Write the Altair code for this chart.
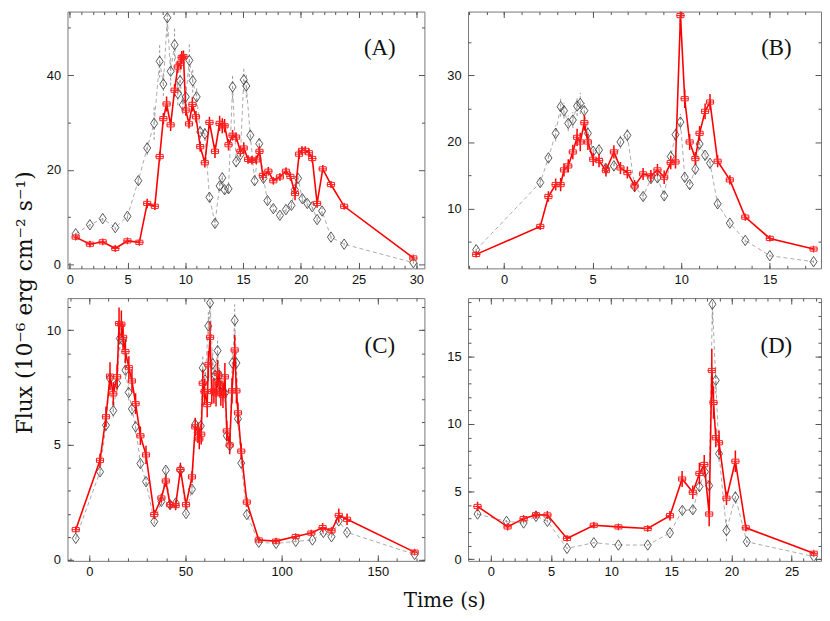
import altair as alt
import pandas as pd

# ---------------- Panel A ----------------
a_t_red = [0.51,1.74,2.85,3.94,4.99,6.02,6.70,7.36,7.78,8.10,
           8.38,8.73,9.07,9.35,9.58,9.69,9.84,10.04,10.32,10.61,
           10.92,11.29,11.69,12.09,12.57,12.97,13.20,13.40,13.74,14.09,
           14.40,14.77,15.06,15.43,15.77,16.14,16.42,16.71,17.19,17.62,
           18.19,18.71,19.10,19.50,19.85,20.10,20.39,20.70,20.99,21.41,
           21.90,22.61,23.75,29.74]
a_f_red = [5.8,4.3,4.8,3.4,5.0,4.7,12.9,12.3,22.8,30.8,
           33.9,29.5,36.8,41.7,42.5,43.7,43.9,32.6,29.7,33.8,
           31.2,24.9,21.5,30.0,23.9,29.8,29.3,29.3,25.3,27.3,
           26.9,23.9,24.6,22.2,22.0,22.1,23.9,18.8,19.7,17.7,
           18.5,19.7,18.6,15.0,23.3,24.1,24.1,23.6,22.4,12.9,
           20.2,16.9,12.3,1.4]
a_e_red = [0.6,0.6,0.6,0.7,0.6,0.6,1.0,0.8,1.0,1.2,
           1.6,1.3,1.3,1.2,1.2,1.4,1.3,1.2,1.0,1.5,
           1.2,1.1,1.0,1.2,1.4,1.6,1.6,1.4,1.2,1.1,
           1.0,1.1,1.2,0.9,0.9,0.9,1.1,1.0,0.9,0.8,
           0.8,0.8,0.9,1.4,1.0,0.9,0.9,0.9,0.9,0.9,
           0.8,0.7,0.6,0.4]
a_t_grey = [0.51,1.74,2.85,3.94,4.99,5.93,6.70,7.30,7.78,8.10,
            8.44,8.73,9.07,9.35,9.55,9.78,10.04,10.35,10.64,10.98,
            11.29,11.69,12.09,12.57,12.97,13.20,13.40,13.74,14.09,14.40,
            14.77,15.06,15.28,15.63,16.00,16.40,16.77,17.11,17.62,18.19,
            18.71,19.19,19.48,19.76,20.13,20.56,20.99,21.41,21.84,22.61,
            23.75,29.74]
a_f_grey = [6.5,8.4,9.7,7.8,10.2,17.7,24.6,29.8,42.9,38.1,
            52.1,40.8,46.4,36.1,38.8,33.7,35.4,43.1,38.8,35.4,
            28.0,27.6,14.2,8.7,16.6,18.3,15.8,16.0,37.5,21.7,
            23.2,39.0,37.7,27.3,17.7,25.5,18.2,13.5,11.8,10.4,
            11.6,12.5,15.8,18.2,13.9,12.9,12.2,9.5,11.3,5.8,
            4.3,0.4]
a_e_grey = [0.5,0.5,0.5,0.5,0.6,1.0,1.5,3.5,3.5,2.5,
            4.0,3.0,3.5,2.5,2.5,2.0,2.5,3.5,2.5,2.0,
            1.5,1.5,1.0,0.8,1.0,1.2,1.0,1.0,2.5,1.2,
            1.5,2.5,2.5,1.5,1.0,1.5,1.0,0.8,0.7,0.6,
            0.6,0.7,1.0,1.2,0.8,0.7,0.7,0.6,0.7,0.4,
            0.3,0.2]

# ---------------- Panel B ----------------
b_t = [-1.58,2.04,2.50,2.91,3.19,3.38,3.62,3.88,4.12,4.30,
       4.53,4.73,5.03,5.36,5.75,6.20,6.57,6.96,7.37,7.85,
       8.29,8.66,9.04,9.41,9.68,9.96,10.20,10.48,10.80,11.04,
       11.35,11.63,12.06,12.75,13.62,15.01,17.48]
b_f_red = [3.1,7.3,11.8,13.6,13.6,15.8,16.4,18.5,20.7,20.0,
           22.9,20.0,17.4,17.2,15.7,18.5,16.1,15.4,13.4,15.2,
           14.9,15.8,14.7,16.9,17.0,39.0,26.5,20.0,17.5,21.3,
           24.6,26.0,17.1,14.3,8.7,5.5,3.9]
b_e_red = [0.4,0.5,0.8,0.9,1.0,1.0,1.0,1.1,1.3,1.4,
           1.2,1.2,1.0,1.0,0.9,1.0,0.9,0.9,0.9,0.9,
           0.9,0.9,1.0,1.0,1.0,1.6,1.4,1.2,1.0,1.1,
           1.2,1.2,0.9,0.7,0.5,0.4,0.3]
b_f_grey = [3.8,13.9,17.6,21.3,25.3,24.7,22.8,23.3,25.4,25.8,
            24.7,21.3,18.6,18.8,16.0,16.4,20.0,21.0,13.3,11.8,
            14.5,14.6,11.9,17.8,21.1,23.0,14.7,13.6,15.9,19.7,
            18.0,16.8,10.7,7.8,5.2,2.9,2.0]
b_e_grey = [0.3,0.6,0.8,1.2,1.5,1.2,1.2,1.2,1.5,1.6,
            1.2,1.0,0.8,0.8,0.8,0.8,1.0,1.0,0.7,0.6,
            0.7,0.7,0.6,0.9,1.0,1.2,0.8,0.8,0.8,0.9,
            0.8,0.8,0.5,0.4,0.3,0.2,0.2]

# ---------------- Panel C ----------------
c_t_red = [-7.0,5.6,8.7,10.8,12.5,14.5,15.5,16.7,17.6,18.8,
           20.6,22.2,24.1,26.6,29.5,33.8,37.5,39.8,42.0,44.9,
           47.4,50.3,53.4,55.1,56.5,57.2,58.2,59.0,59.9,61.3,
           61.9,62.8,63.7,64.8,65.9,66.7,67.6,68.4,69.5,70.5,
           71.5,73.0,74.2,75.6,76.5,77.3,79.0,81.9,88.1,97.1,
           107.3,115.4,121.3,125.9,129.7,134.0,169.1]
c_f_red = [1.31,4.33,6.23,8.0,7.23,7.97,10.29,10.26,9.69,9.07,
           8.37,7.79,6.8,5.4,4.57,1.97,2.69,3.43,2.40,2.36,
           3.93,2.40,3.61,5.79,5.54,5.26,5.47,7.69,7.33,6.76,
           8.5,9.69,7.33,7.36,7.23,8.11,7.69,7.26,7.16,7.97,
           5.61,5.0,7.36,9.14,7.36,6.4,4.73,2.51,0.86,0.81,
           1.01,1.16,1.4,1.26,1.93,1.76,0.33]
c_e_red = [0.12,0.3,0.45,0.6,0.5,0.55,0.7,0.6,0.55,0.5,
           0.5,0.5,0.45,0.4,0.4,0.2,0.2,0.25,0.2,0.2,
           0.3,0.2,0.25,0.4,0.45,0.45,0.45,0.6,0.55,0.55,
           0.6,0.7,0.55,0.55,0.55,0.6,0.55,0.55,0.55,0.6,
           0.45,0.4,0.55,0.65,0.55,0.45,0.35,0.2,0.08,0.08,
           0.1,0.12,0.2,0.15,0.3,0.25,0.05]
c_t_grey = [-7.0,5.6,8.7,10.8,12.5,14.5,15.9,17.6,18.8,20.5,
            22.2,24.1,26.6,29.5,33.8,37.5,39.8,42.0,44.9,47.4,
            50.3,53.4,55.1,56.5,58.0,59.0,60.2,61.9,62.8,64.2,
            65.4,66.7,67.6,68.4,69.5,70.5,71.5,73.0,74.4,75.6,
            76.5,77.3,79.0,81.9,88.1,97.1,107.3,116.0,121.7,125.9,
            129.7,134.0,169.1]
c_f_grey = [0.93,3.83,5.86,7.9,6.5,7.69,9.64,9.54,8.26,7.29,
            6.57,5.79,4.19,3.4,1.66,2.54,3.9,2.4,2.47,3.9,
            2.01,3.07,5.9,5.61,5.83,8.36,7.83,10.19,11.19,8.54,
            8.04,9.11,8.04,7.54,7.33,7.26,5.4,4.97,8.57,10.43,
            8.57,6.14,4.21,1.97,0.76,0.71,0.8,0.86,1.19,1.0,
            1.69,1.19,0.23]
c_e_grey = [0.05,0.15,0.25,0.35,0.3,0.35,0.5,0.5,0.4,0.35,
            0.3,0.3,0.2,0.15,0.1,0.15,0.2,0.15,0.15,0.2,
            0.1,0.15,0.3,0.3,0.3,0.5,0.45,0.6,0.7,0.5,
            0.45,0.55,0.45,0.4,0.4,0.4,0.3,0.3,0.5,0.7,
            0.5,0.35,0.25,0.1,0.05,0.05,0.05,0.05,0.08,0.06,
            0.1,0.07,0.02]

# ---------------- Panel D ----------------
d_t_red = [-1.11,1.39,2.72,3.75,4.70,6.33,8.56,10.60,13.04,14.89,
           15.90,16.79,17.34,17.74,18.15,18.37,18.51,18.70,18.97,19.59,
           20.33,21.20,26.85]
d_f_red = [3.9,2.39,3.0,3.29,3.27,1.54,2.51,2.39,2.27,3.22,
           5.93,4.95,6.34,7.0,3.34,13.95,11.59,8.98,8.61,4.51,
           7.24,2.32,0.44]
d_e_red = [0.35,0.25,0.25,0.3,0.3,0.2,0.2,0.2,0.2,0.35,
           0.6,0.5,0.8,0.7,0.9,1.6,1.2,0.7,0.9,0.5,
           0.8,0.25,0.1]
d_t_grey = [-1.11,1.30,2.72,3.75,4.70,6.33,8.56,10.60,13.04,14.89,
            15.92,16.79,17.34,17.80,18.15,18.42,18.70,18.97,19.59,20.33,
            21.28,26.85]
d_f_grey = [3.34,2.8,2.68,3.17,2.8,0.8,1.22,1.05,1.05,1.95,
            3.61,3.66,5.37,6.46,5.44,18.85,13.22,7.8,2.12,4.59,
            1.29,0.2]
d_e_grey = [0.1,0.1,0.1,0.1,0.1,0.05,0.05,0.05,0.05,0.1,
            0.3,0.3,0.4,0.5,0.4,1.5,1.0,0.6,0.8,0.5,
            0.1,0.05]

SERIF = "Liberation Serif"
TITLE_FONT = "DejaVu Serif"
SANS = "Liberation Sans"
RED_SHAPE = "M-1,-0.6H1V0.6H-1Z M-1.2,0H1.2 M0,-1V1"
DIAMOND = "M0,-1L0.68,0L0,1L-0.68,0Z"


def frame(t, f, e):
    return pd.DataFrame({"t": t, "f": f,
                         "lo": [a - b for a, b in zip(f, e)],
                         "hi": [a + b for a, b in zip(f, e)]})


def steps(lo, hi, step):
    out = []
    k = 0
    while True:
        v = round(lo + k * step, 6)
        if v > hi + 1e-9:
            break
        out.append(v)
        k += 1
    return out


def panel(tr, fr, er, tg, fg, eg, xdom, ydom, xmaj, xmin, ymaj, ymin, label, w, h):
    red = frame(tr, fr, er)
    grey = frame(tg, fg, eg)
    xs = alt.Scale(domain=xdom, nice=False, zero=False)
    ys = alt.Scale(domain=ydom, nice=False, zero=False)

    def tick(orient, values, size, offset):
        return alt.Axis(orient=orient, values=values, labels=False, ticks=True,
                        tickSize=size, tickColor="#555", tickWidth=1,
                        domain=False, grid=False, title=None, offset=offset)

    xlab = alt.Axis(orient="bottom", values=xmaj, ticks=False, domain=False,
                    grid=False, title=None, labelPadding=5, format="d")
    ylab = alt.Axis(orient="left", values=ymaj, ticks=False, domain=False,
                    grid=False, title=None, labelPadding=7, format="d")
    xaxes = [xlab, tick("top", xmaj, 6, -h), tick("top", xmin, 3, -h),
             tick("bottom", xmaj, 6, -h), tick("bottom", xmin, 3, -h)]
    yaxes = [ylab, tick("right", ymaj, 6, -w), tick("right", ymin, 3, -w),
             tick("left", ymaj, 6, -w), tick("left", ymin, 3, -w)]

    def X(i):
        return alt.X("t:Q", scale=xs, axis=xaxes[i] if i is not None else None)

    def Y(i, field="f"):
        return alt.Y(field + ":Q", scale=ys, axis=yaxes[i] if i is not None else None)

    g_line = alt.Chart(grey).mark_line(color="#aaaaaa", strokeWidth=1,
                                       strokeDash=[4, 3], clip=True).encode(x=X(0), y=Y(0))
    g_err = alt.Chart(grey).mark_rule(color="#999999", strokeWidth=1,
                                      strokeDash=[3, 2], clip=True).encode(
        x=X(1), y=Y(1, "lo"), y2="hi:Q")
    g_pts = alt.Chart(grey).mark_point(shape=DIAMOND, size=110, filled=False,
                                       color="#444444", strokeWidth=0.9,
                                       opacity=1, clip=True).encode(x=X(2), y=Y(2))
    r_line = alt.Chart(red).mark_line(color="#ff0000", strokeWidth=1.6,
                                      clip=True).encode(x=X(3), y=Y(3))
    r_err = alt.Chart(red).mark_rule(color="#ff0000", strokeWidth=1.5,
                                     clip=True).encode(x=X(4), y=Y(4, "lo"), y2="hi:Q")
    r_pts = alt.Chart(red).mark_point(shape=RED_SHAPE, size=50, filled=False,
                                      color="#ff2020", strokeWidth=1,
                                      opacity=1, clip=True).encode(x=X(None), y=Y(None))
    txt = alt.Chart(pd.DataFrame({"lab": [label]})).mark_text(
        font=SERIF, fontSize=23, color="#111111").encode(
        text="lab:N", x=alt.value(w - 45), y=alt.value(37 if h < 262 else 48))

    return alt.layer(g_line, g_err, g_pts, r_line, r_err, r_pts, txt).resolve_axis(
        x="independent", y="independent").properties(width=w, height=h)


HT, HB = 259, 265
WL, WR = 360, 356

pa = panel(a_t_red, a_f_red, a_e_red, a_t_grey, a_f_grey, a_e_grey,
           [-0.2, 30.7], [-0.8, 53.4], steps(0, 30, 5), steps(0, 30, 1),
           [0, 20, 40], [10, 30, 50], "(A)", WL, HT)
pb = panel(b_t, b_f_red, b_e_red, b_t, b_f_grey, b_e_grey,
           [-2.04, 17.9], [1.0, 39.6], [0, 5, 10, 15], steps(-2, 17, 1),
           [10, 20, 30], [5, 15, 25, 35], "(B)", WR, HT)
pc = panel(c_t_red, c_f_red, c_e_red, c_t_grey, c_f_grey, c_e_grey,
           [-11.3, 174.2], [-0.05, 11.4], [0, 50, 100, 150], steps(-10, 170, 10),
           [0, 5, 10], steps(0, 11, 1), "(C)", WL, HB)
pd_ = panel(d_t_red, d_f_red, d_e_red, d_t_grey, d_f_grey, d_e_grey,
            [-1.9, 27.45], [-0.12, 19.3], [0, 5, 10, 15, 20, 25], steps(-1, 27, 1),
            [0, 5, 10, 15], steps(0, 19, 1), "(D)", WR, HB)

top = alt.hconcat(pa, pb, spacing=21)
bottom = alt.hconcat(pc, pd_, spacing=21)
inner = alt.vconcat(top, bottom, spacing=10).properties(
    title=alt.TitleParams("Time (s)", orient="bottom", anchor="middle", font=TITLE_FONT,
                          fontSize=20, fontWeight="normal", color="#111111", offset=12,
                          dx=11))
chart = alt.vconcat(inner).properties(
    title=alt.TitleParams("Flux (10⁻⁶  erg  cm⁻²  s⁻¹)", orient="left", anchor="middle",
                          font=TITLE_FONT, fontSize=22, fontWeight="normal",
                          color="#111111", offset=9, dx=8),
    padding={"left": 6, "top": 0, "right": 0, "bottom": 0},
).configure_view(stroke="#777777", strokeWidth=1).configure_axis(
    labelFont=SANS, labelFontSize=13, labelColor="#111111")

chart.save("out.html", embed_options={"renderer": "svg", "actions": False})
